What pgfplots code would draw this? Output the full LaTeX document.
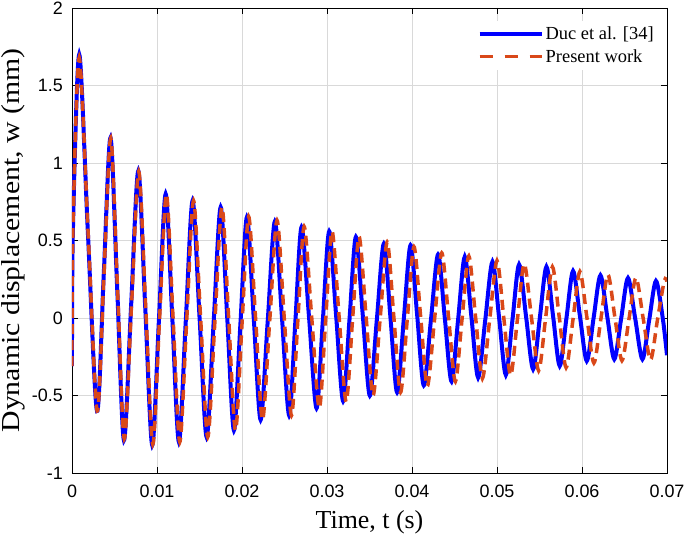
\documentclass[border=0pt]{standalone}
\usepackage{fontspec}
\setmainfont{Liberation Serif}
\newfontfamily\tickfont{Liberation Sans}
\usepackage{pgfplots}
\pgfplotsset{compat=1.18}
\definecolor{mblue}{RGB}{0,0,255}
\definecolor{mred}{RGB}{217,72,25}

\pgfplotstableread{
x y
0 -0.31
0.00010 0.55
0.00085 1.70
0.00187 0.55
0.00294 -0.60
0.003735 0.28
0.00453 1.163
0.00532 0.187
0.00611 -0.789
0.006955 0.08
0.00780 0.949
0.00862 0.064
0.00944 -0.821
0.01023 -0.01
0.01102 0.800
0.01180 0.0
0.01258 -0.800
0.013385 -0.02
0.01419 0.757
0.015015 -0.005
0.01584 -0.768
0.016665 -0.027
0.01749 0.715
0.01827 -0.005
0.01905 -0.725
0.019815 -0.037
0.02058 0.651
0.021385 -0.003
0.02219 -0.657
0.02303 -0.017
0.02387 0.623
0.02471 -0.003
0.02555 -0.629
0.02628 -0.021
0.02701 0.587
0.02789 0.0025
0.02877 -0.582
0.029515 -0.012
0.03026 0.559
0.03108 0.011
0.03190 -0.537
0.03265 -0.007
0.03340 0.523
0.03422 0.011
0.03504 -0.501
0.035865 -0.01
0.03669 0.480
0.03747 0.0
0.03825 -0.480
0.03904 -0.005
0.03983 0.469
0.04061 0.017
0.04139 -0.435
0.04223 -0.012
0.04307 0.410
0.04386 0.0
0.04465 -0.409
0.04543 -0.007
0.04621 0.395
0.046995 0.005
0.04778 -0.384
0.048625 -0.01
0.04947 0.363
0.050255 -0.002
0.05104 -0.367
0.05182 -0.011
0.05260 0.345
0.053425 0.007
0.05425 -0.330
0.055035 0.0
0.05582 0.331
0.0566 0.011
0.05738 -0.309
0.058165 -0.003
0.05895 0.303
0.059755 0.013
0.06056 -0.277
0.061365 0.0
0.06217 0.275
0.062985 0.0045
0.06380 -0.266
0.064605 -0.004
0.06541 0.258
0.06626 -0.004
0.06711 -0.266
0.067905 -0.013
0.06870 0.239
0.06950 0.0
0.07000 -0.24
}\duc

\pgfplotstableread{
x y
0 -0.31
0.00010 0.55
0.00085 1.68
0.001905 0.54
0.00296 -0.60
0.00376 0.28
0.00456 1.16
0.005355 0.19
0.00615 -0.78
0.0070 0.08
0.00785 0.945
0.008675 0.065
0.00950 -0.815
0.0103 -0.008
0.01110 0.80
0.01189 0.0
0.01268 -0.80
0.01349 -0.02
0.01430 0.757
0.015135 -0.005
0.01597 -0.768
0.016805 -0.027
0.01764 0.715
0.018435 -0.005
0.01923 -0.725
0.020005 -0.035
0.02078 0.655
0.021595 0.0
0.02241 -0.657
0.023265 -0.013
0.02412 0.63
0.02497 0.0
0.02582 -0.629
0.026565 -0.02
0.02731 0.59
0.0282 0.004
0.02909 -0.582
0.02984 -0.011
0.03059 0.56
0.03142 0.01
0.03225 -0.54
0.03301 -0.008
0.03377 0.525
0.034595 0.012
0.03542 -0.50
0.03625 -0.005
0.03708 0.49
0.037865 0.005
0.03865 -0.48
0.03944 -0.01
0.04023 0.46
0.041015 0.01
0.04180 -0.44
0.04265 -0.01
0.04350 0.42
0.0443 0.005
0.04510 -0.41
0.04589 -0.005
0.04668 0.40
0.04748 0.005
0.04828 -0.39
0.04914 -0.01
0.05000 0.37
0.0508 0.0
0.05160 -0.37
0.0524 -0.01
0.05320 0.35
0.05405 0.005
0.05490 -0.34
0.05571 -0.005
0.05652 0.33
0.057325 0.005
0.05813 -0.32
0.05894 -0.01
0.05975 0.30
0.060575 0.005
0.06140 -0.29
0.062225 -0.005
0.06305 0.28
0.063875 0.0025
0.06470 -0.275
0.065525 -0.0075
0.06635 0.26
0.067205 -0.005
0.06806 -0.27
0.06887 -0.015
0.06968 0.24
0.07000 0.235
}\present

\begin{document}
\begin{tikzpicture}
\useasboundingbox (-72bp,-64bp) rectangle (613bp,473bp);
\begin{axis}[
  scale only axis,
  width=595bp, height=465bp,
  xmin=0, xmax=0.07, ymin=-1, ymax=2,
  xtick={0,0.01,0.02,0.03,0.04,0.05,0.06,0.07},
  xticklabels={0,0.01,0.02,0.03,0.04,0.05,0.06,0.07},
  ytick={-1,-0.5,0,0.5,1,1.5,2},
  yticklabels={-1,-0.5,0,0.5,1,1.5,2},
  scaled x ticks=false, scaled y ticks=false,
  tick align=inside,
  major tick length=6bp,
  tick style={black, line width=0.8bp},
  axis line style={black, line width=0.9bp},
  grid=major,
  major grid style={gray!30, line width=0.8bp},
  tick label style={font=\tickfont\fontsize{18}{18}\selectfont},
  xticklabel style={anchor=base, yshift=-24bp},
  yticklabel style={anchor=east, inner sep=0pt, xshift=-9bp},
  xlabel={Time, t (s)},
  ylabel={Dynamic displacement, w (mm)},
  xlabel style={at={(axis description cs:0.5,-0.1204)}, anchor=base, font=\fontsize{26}{26}\selectfont},
  ylabel style={at={(axis description cs:-0.0874,0.5)}, anchor=base, font=\fontsize{26}{26}\selectfont, xscale=1.15},
  legend style={at={(axis description cs:0.988,0.972)}, anchor=north east, draw=none, fill=white,
    font=\fontsize{18.5}{18.5}\selectfont, row sep=4bp, inner sep=4bp},
  legend cell align=left,
  legend image code/.code={\draw[#1] (0bp,0bp) -- (62bp,0bp);},
]
\addlegendimage{mblue, line width=4bp}
\addlegendentry{Duc et al. [34]}
\addlegendimage{mred, line width=3.5bp, dash pattern=on 13bp off 12bp}
\addlegendentry{Present work}
\addplot[mblue, line width=4bp, smooth, forget plot] table[x=x,y=y] {\duc};
\addplot[mred, line width=3.5bp, smooth, dash pattern=on 10bp off 6bp, forget plot] table[x=x,y=y] {\present};
\end{axis}
\end{tikzpicture}
\end{document}
